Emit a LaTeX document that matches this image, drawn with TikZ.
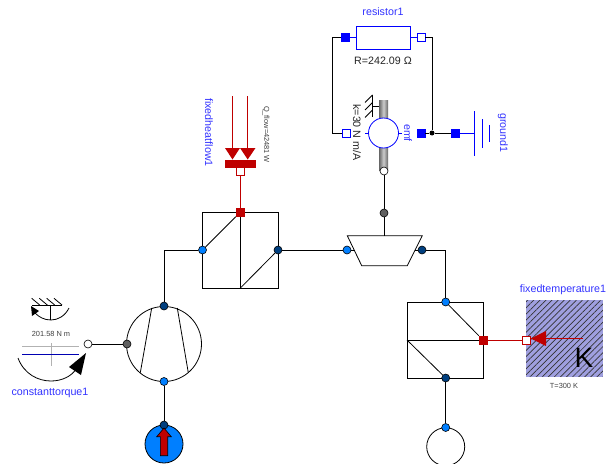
\documentclass[tikz,border=0pt]{standalone}
\usepackage{fontspec}
\setmainfont{Liberation Sans}
\usepackage{xcolor}
\usetikzlibrary{shapes,arrows,positioning,patterns.meta}
\definecolor{portlight}{RGB}{0,127,255}
\definecolor{portdark}{RGB}{0,63,127}
\definecolor{portgray}{RGB}{95,95,95}
\definecolor{heatred}{RGB}{191,0,0}
\definecolor{elecblue}{RGB}{0,0,255}
\definecolor{labelblue}{RGB}{50,50,255}
\definecolor{tempfill}{RGB}{159,159,223}

\begin{document}
\begin{tikzpicture}[
        x=1pt, y=-1pt,
        flange/.style={circle, draw=black, line width=0.6pt, minimum size=8pt, inner sep=0pt},
        lightport/.style={flange, fill=portlight},
        darkport/.style={flange, fill=portdark},
        grayport/.style={flange, fill=portgray},
        openport/.style={flange, fill=white},
        pinfull/.style={rectangle, draw=elecblue, fill=elecblue, minimum size=8pt, inner sep=0pt},
        pinopen/.style={rectangle, draw=elecblue, fill=white, line width=0.6pt, minimum size=8pt, inner sep=0pt},
        heatfull/.style={rectangle, draw=heatred, fill=heatred, minimum size=8pt, inner sep=0pt},
        heatopen/.style={rectangle, draw=heatred, fill=white, line width=0.6pt, minimum size=8pt, inner sep=0pt},
        exchanger/.style={rectangle, draw=black, line width=0.8pt, minimum size=76pt, inner sep=0pt},
        machine/.style={circle, draw=black, fill=white, line width=0.8pt, inner sep=0pt},
        wire/.style={black, line width=0.8pt},
        redwire/.style={heatred, line width=0.9pt},
        bluewire/.style={elecblue, line width=0.7pt},
        tagname/.style={text=labelblue, font=\fontsize{10.7}{12}\selectfont, inner sep=0pt},
        param/.style={text=black!75, font=\fontsize{7.4}{8}\selectfont, inner sep=0pt},
        rparam/.style={text=black!85, font=\fontsize{10.7}{12}\selectfont, inner sep=0pt}
    ]
        \useasboundingbox (0,0) rectangle (609,463);

        % Resistor
        \node[rectangle, draw=elecblue, fill=white, line width=0.8pt, minimum width=54pt, minimum height=23pt, inner sep=0pt] (resistor) at (383,37.5) {};
        \node[pinfull] (resleft) at (345,37.5) {};
        \node[pinopen] (resright) at (421,37.5) {};
        \node[tagname] (resname) at (383,12) {resistor1};
        \node[rparam] (resval) at (383,61) {R=242.09 Ω};
        \draw[bluewire] (resleft) -- (resistor);
        \draw[bluewire] (resright) -- (resistor);

        % EMF with its shaft
        \node[rectangle, shade, left color=black!60, right color=black!60, middle color=black!20, minimum width=9pt, minimum height=70pt, inner sep=0pt] (rod) at (383.5,135) {};
        \node[machine, draw=elecblue, minimum size=30pt] (emf) at (383.5,133) {};
        \node[pinopen] (emfleft) at (346,133) {};
        \node[pinfull] (emfright) at (421,133) {};
        \node[openport] (emfshaft) at (384,171) {};
        \node[tagname, rotate=-90] (emfname) at (408,133) {emf};
        \node[rparam, rotate=-90] (emfval) at (357,132.5) {k=30 N m/A};
        \draw[bluewire] (emf.west) -- ++(-3,0);
        \draw[bluewire] (emf.east) -- ++(3,0);
        \coordinate (mount) at (372.5,106);
        \draw[wire] (mount) -- (rod.west |- mount);
        \draw[wire] (372.5,95) -- (372.5,117);
        \foreach \y in {95,102.5,110}
            \draw[wire] (372.5,\y) -- ++(-7.5,7.5);

        % Ground
        \node[pinfull] (gndpin) at (455.5,133) {};
        \coordinate (gndbar) at (474,133);
        \node[circle, fill=black, minimum size=5pt, inner sep=0pt] (junction) at (432,133) {};
        \draw[bluewire] (474,111) -- (474,156);
        \draw[bluewire] (482,119) -- (482,148);
        \draw[bluewire] (489,125) -- (489,142);
        \node[tagname, rotate=-90] (gndname) at (503,133) {ground1};
        \draw[bluewire] (gndpin) -- (gndbar);

        % Electric wires
        \coordinate (wirebend) at (332,133);
        \draw[wire] (resleft) -| (wirebend) -- (emfleft);
        \draw[wire] (resright) -| (junction);
        \draw[wire] (emfright) -- (junction);
        \draw[wire] (junction) -- (gndpin);

        % Heat flow source
        \coordinate (flowa) at (232.7,96);
        \coordinate (flowb) at (247.7,96);
        \draw[redwire] (flowa) -- (232.7,150);
        \draw[redwire] (flowb) -- (247.7,150);
        \fill[heatred] (225,148) -- (240,148) -- (232.5,159.5) -- cycle;
        \fill[heatred] (240,148) -- (255.5,148) -- (247.7,159.5) -- cycle;
        \node[rectangle, fill=heatred, minimum width=31pt, minimum height=8pt, inner sep=0pt] (heatbar) at (240,164) {};
        \node[heatopen] (heatout) at (240,171.5) {};
        \node[tagname, rotate=-90] (heatname) at (209,132.5) {fixedheatflow1};
        \node[param, rotate=-90] (heatval) at (266,134.5) {Q\_flow=42481 W};

        % Upper heat exchanger
        \node[exchanger] (hxup) at (240,250) {};
        \node[heatfull] (hxupheat) at (240,212.5) {};
        \node[lightport] (hxupin) at (202.5,250) {};
        \node[darkport] (hxupout) at (278,250) {};
        \draw[wire] (hxupheat) -- (hxup.south);
        \draw[wire] (hxupin) -- (hxupheat);
        \draw[wire] (hxupout) -- (hxup.south);
        \draw[redwire] (heatout) -- (hxupheat);

        % Compressor
        \node[machine, minimum size=75pt] (comp) at (164,344) {};
        \node[darkport] (compout) at (164,306) {};
        \node[lightport] (compin) at (164,381.5) {};
        \node[grayport] (compshaft) at (127,344) {};
        \draw[wire] (151.7,308) -- (140.3,372.7);
        \draw[wire] (177.3,308) -- (188.3,372.7);

        % Source below the compressor
        \node[machine, fill=portlight, minimum size=38pt] (source) at (164,444) {};
        \node[darkport] (sourceport) at (164,425) {};
        \draw[black, line width=0.6pt, fill=heatred] (160.3,455.7) -- (160.3,436.7) -- (156.7,436.7) -- (164,428) -- (171.3,436.7) -- (167.7,436.7) -- (167.7,455.7) -- cycle;

        % Torque
        \node[openport] (torqueport) at (88,344) {};
        \draw[black!30, line width=0.7pt] (22,346.7) -- (79,346.7);
        \draw[black!30, line width=0.7pt] (51,343) -- (51,366);
        \draw[elecblue!70!black, line width=0.8pt] (22,354.7) -- (79,354.7);
        \draw[wire] (18,358) .. controls (24,374) and (38,381) .. (51,381) .. controls (62,381) and (72,376) .. (76,369);
        \fill[black] (86,353) -- (69,367) -- (81,375) -- cycle;
        \draw[wire] (32,305) -- (62,305);
        \foreach \x in {31.7,39.3,46.7,54}
            \draw[wire] (\x,298.3) -- ++(8,6.7);
        \draw[wire] (50.5,305) -- (50.5,320);
        \draw[wire] (69,308) .. controls (65,316) and (58,320) .. (51,320) .. controls (44,320) and (39,317) .. (35,313);
        \fill[black] (31,306) -- (32,316) -- (39,311) -- cycle;
        \node[param] (torqueval) at (51,334) {201.58 N m};
        \node[tagname] (torquename) at (50,393) {constanttorque1};

        % Turbine
        \draw[black, fill=white, line width=0.8pt] (347.3,235.7) -- (422.3,235.7) -- (407.3,265.7) -- (361.7,265.7) -- cycle;
        \coordinate (turbleft) at (354.5,250);
        \coordinate (turbright) at (414.8,250);
        \coordinate (turbtop) at (384,235.7);
        \node[lightport] (turbin) at (347,250) {};
        \node[darkport] (turbout) at (422,250) {};
        \node[grayport] (turbshaft) at (384,213) {};

        % Lower heat exchanger
        \node[exchanger] (hxlow) at (445,340) {};
        \node[lightport] (hxlowin) at (445.7,302) {};
        \node[darkport] (hxlowout) at (445.7,378) {};
        \node[heatfull] (hxlowheat) at (483,340) {};
        \coordinate (hxlowmid) at (407,340);
        \draw[wire] (hxlowmid) -- (hxlowheat);
        \draw[wire] (hxlowin) -- (hxlowheat);
        \draw[wire] (hxlowmid) -- (hxlowout);

        % Lower circle
        \node[machine, minimum size=38pt] (sink) at (445.7,446.7) {};
        \node[lightport] (sinkport) at (445.7,427.5) {};

        % Fixed temperature
        \node[rectangle, minimum size=76.7pt, inner sep=0pt, preaction={fill=tempfill}, pattern={Lines[angle=45, distance=4.3pt, line width=0.7pt]}, pattern color=black!80] (tempbox) at (564.4,338.4) {};
        \node[heatopen] (tempport) at (526.5,340) {};
        \coordinate (temptail) at (583,338.5);
        \draw[redwire] (temptail) -- (546,338.5);
        \fill[heatred] (530.7,338.5) -- (546,331) -- (546,346) -- cycle;
        \node[inner sep=0pt, font=\fontsize{28}{30}\selectfont] (tempk) at (584,358) {K};
        \node[tagname] (tempname) at (563,290) {fixedtemperature1};
        \node[param] (tempval) at (564,386) {T=300 K};
        \draw[redwire] (hxlowheat) -- (tempport);

        % Fluid wires
        \draw[wire] (hxupin) -| (compout);
        \draw[wire] (compin) -- (sourceport);
        \draw[wire] (compshaft) -- (torqueport);
        \draw[wire] (hxupout) -- (turbin);
        \draw[wire] (turbin) -- (turbleft);
        \draw[wire] (turbout) -- (turbright);
        \draw[wire] (turbout) -| (hxlowin);
        \draw[wire] (hxlowout) -- (sinkport);
        \draw[wire] (emfshaft) -- (turbshaft);
        \draw[wire] (turbshaft) -- (turbtop);
    \end{tikzpicture}
\end{document}
